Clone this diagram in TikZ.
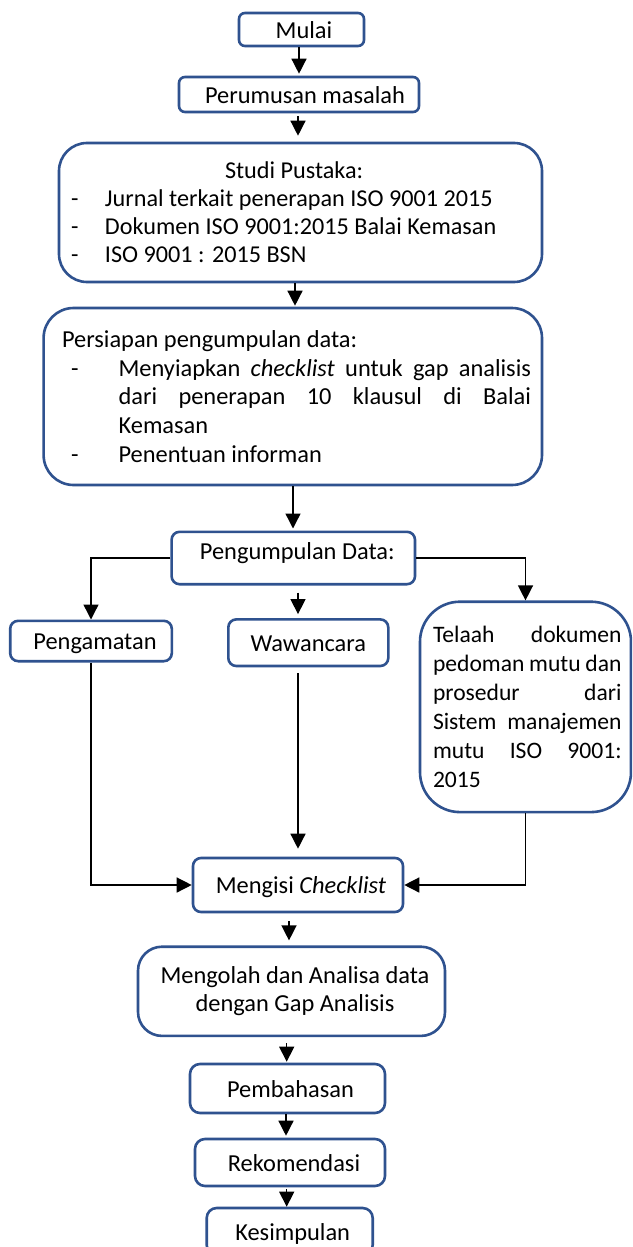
\documentclass[tikz,border=0pt]{standalone}
\usepackage{fontspec}
\setmainfont{Carlito}
\usetikzlibrary{arrows.meta}
\definecolor{bord}{HTML}{2F528F}
\tikzset{
  box/.style={draw=bord, line width=1.3pt, rounded corners=#1, fill=white,
    inner sep=0pt, align=center, font=\fontsize{12.2}{14.4}\selectfont},
  box/.default=4pt,
  sbox/.style={box=#1, text height=10.8pt, text depth=2.2pt},
  sbox/.default=4pt,
  arr/.style={-{Triangle[width=7.5pt,length=7.5pt]}, line width=0.7pt, black},
  ln/.style={line width=0.7pt, black}
}
\begin{document}
\begin{tikzpicture}[x=0.5pt,y=-0.5pt]
\useasboundingbox (0,0) rectangle (632,1247);
\clip (0,0) rectangle (632,1247);
\fill[white] (0,0) rectangle (632,1247);

% x positions of vertical connectors
\coordinate (x299) at (299,0);
\coordinate (x298) at (298,0);
\coordinate (x295) at (295,0);
\coordinate (x293) at (293,0);
\coordinate (x289) at (289,0);
\coordinate (x287) at (286.7,0);
\coordinate (x286) at (286,0);

\node[sbox=3pt, minimum width=62.5pt, minimum height=16.5pt] (mulai) at (301.5,29.5) {\hspace*{2.5pt}Mulai};
\node[sbox=3pt, minimum width=120pt, minimum height=17.5pt] (perumusan) at (299,94.5) {\hspace*{6pt}Perumusan masalah};

\node[box=14pt, minimum width=241.5pt, minimum height=69.5pt] (studi) at (300.5,212.5) {\parbox{241.5pt}{\fontsize{12.1}{14}\selectfont
\hspace*{83pt}Studi Pustaka:\\
\hspace*{6pt}\makebox[17pt][l]{-}Jurnal terkait penerapan ISO 9001 2015\\
\hspace*{6pt}\makebox[17pt][l]{-}Dokumen ISO 9001:2015 Balai Kemasan\\
\hspace*{6pt}\makebox[17pt][l]{-}ISO 9001 : 2015 BSN}};

\node[box=15pt, minimum width=249.2pt, minimum height=88.5pt] (persiapan) at (292.8,396.5) {\parbox{249.2pt}{\fontsize{12.2}{14.4}\selectfont
\hspace*{9.2pt}Persiapan pengumpulan data:\\
\hspace*{13.7pt}\makebox[23.8pt][l]{-}\makebox[206.2pt][s]{Menyiapkan \textit{checklist} untuk gap analisis}\\
\hspace*{37.5pt}\makebox[206.2pt][s]{dari penerapan 10 klausul di Balai}\\
\hspace*{37.5pt}Kemasan\\
\hspace*{13.7pt}\makebox[23.8pt][l]{-}Penentuan informan}};

\node[sbox, minimum width=121.7pt, minimum height=26.2pt] (pengumpulan) at (293.3,558) {\raisebox{3.65pt}{\hspace*{4pt}Pengumpulan Data:}};

\node[sbox, minimum width=80.8pt, minimum height=20.2pt] (pengamatan) at (91,641) {\hspace*{4pt}Pengamatan};
\node[sbox, minimum width=80pt, minimum height=23.3pt] (wawancara) at (308.3,642.7) {Wawancara};

\node[box=20pt, minimum width=105.5pt, minimum height=105.2pt] (telaah) at (525.5,706.9) {\parbox{105.5pt}{\fontsize{11.8}{14.5}\selectfont
\hspace*{6.5pt}\makebox[94.3pt][s]{Telaah dokumen}\\
\hspace*{6.5pt}\makebox[94.3pt][s]{pedoman mutu dan}\\
\hspace*{6.5pt}\makebox[94.3pt][s]{prosedur dari}\\
\hspace*{6.5pt}\makebox[94.3pt][s]{Sistem manajemen}\\
\hspace*{6.5pt}\makebox[94.3pt][s]{mutu ISO 9001:}\\
\hspace*{6.5pt}2015}};

\node[sbox, minimum width=105pt, minimum height=27pt] (mengisi) at (298,885) {\hspace*{3pt}Mengisi \textit{Checklist}};

\node[box=12pt, minimum width=153.5pt, minimum height=44.6pt] (mengolah) at (291.5,991.3) {\parbox{153.5pt}{\centering\fontsize{12.2}{14}\selectfont
\hspace*{3.5pt}Mengolah dan Analisa data\\
\hspace*{3.5pt}dengan Gap Analisis}};

\node[sbox=5pt, minimum width=97.5pt, minimum height=24.5pt] (pembahasan) at (287.5,1088.5) {\hspace*{3pt}Pembahasan};
\node[sbox=5pt, minimum width=95pt, minimum height=23.5pt] (rekomendasi) at (290,1162.5) {\hspace*{4pt}Rekomendasi};
\node[sbox=5pt, minimum width=83pt, minimum height=23.5pt] (kesimpulan) at (289.7,1231.5) {\hspace*{3pt}Kesimpulan};

% connectors
\draw[arr, shorten >=1pt] (mulai.south -| x299) -- (perumusan.north -| x299);
\draw[arr, shorten <=1.5pt, shorten >=3pt] (perumusan.south -| x298) -- (studi.north -| x298);
\draw[arr, shorten >=0.5pt] (studi.south -| x295) -- (persiapan.north -| x295);
\draw[arr, shorten >=1pt] (persiapan.south -| x293) -- (pengumpulan.north -| x293);

\draw[arr] (pengumpulan.west) -| (pengamatan.north);
\draw[arr] (pengumpulan.east) -| (telaah.north);
\draw[arr, shorten <=3.5pt, shorten >=2pt] (pengumpulan.south -| x298) -- (wawancara.north -| x298);

\draw[arr] (pengamatan.south) |- (mengisi.west);
\draw[arr, shorten <=3pt, shorten >=4pt] (wawancara.south -| x298) -- (mengisi.north -| x298);
\draw[arr] (telaah.south) |- (mengisi.east);

\draw[arr, shorten <=4pt, shorten >=2.5pt] (mengisi.south -| x289) -- (mengolah.north -| x289);
\draw[arr, shorten <=3pt, shorten >=0.5pt] (mengolah.south -| x287) -- (pembahasan.north -| x287);
\draw[arr, shorten >=1pt] (pembahasan.south -| x286) -- (rekomendasi.north -| x286);
\draw[arr, shorten <=1pt] (rekomendasi.south -| x287) -- (kesimpulan.north -| x287);
\end{tikzpicture}
\end{document}
